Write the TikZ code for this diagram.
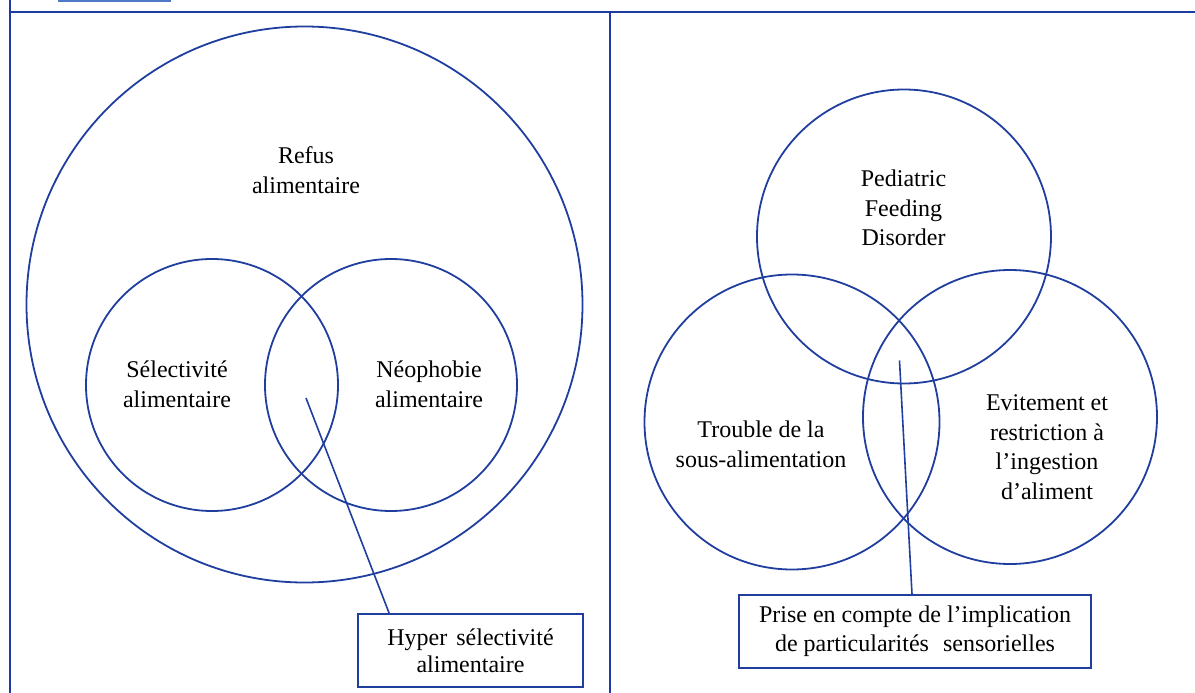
\documentclass[tikz,border=0pt]{standalone}
\usepackage{fontspec}
\setmainfont{Liberation Serif}
\definecolor{vennblue}{RGB}{32,62,158}
\definecolor{tabblue}{RGB}{28,58,160}
\definecolor{linkblue}{RGB}{80,120,200}
\begin{document}
\begin{tikzpicture}[x=1pt,y=-1pt,
  vennring/.style={circle, draw=vennblue, line width=1.8pt, inner sep=0pt},
  vennlabel/.style={font=\fontsize{24}{29.5}\selectfont, align=center, anchor=base, inner sep=0pt, text=black},
  callout/.style={draw=vennblue, line width=1.8pt, fill=white, inner sep=0pt, align=center, text=black},
  leader/.style={draw=vennblue, line width=1.6pt},
  frameline/.style={draw=tabblue, line width=2pt}]
\useasboundingbox (0,0) rectangle (1195,693);

% table frame
\coordinate (fTL) at (9.5,0);
\coordinate (fBL) at (9.5,693);
\coordinate (hL) at (9.5,12.5);
\coordinate (hR) at (1195,12.5);
\coordinate (mT) at (609.5,12.5);
\coordinate (mB) at (609.5,693);
\coordinate (uL) at (58,1);
\coordinate (uR) at (171,1);
\draw[frameline] (fTL) -- (fBL);
\draw[frameline] (hL) -- (hR);
\draw[frameline] (mT) -- (mB);
\draw[draw=linkblue, line width=2pt] (uL) -- (uR);

% left panel
\node[vennring, minimum size=556pt] (refusC) at (304.5,304.5) {};
\node[vennring, minimum size=252pt] (selecC) at (212,385) {};
\node[vennring, minimum size=252pt] (neoC) at (391,385) {};
\node[vennlabel] (refus) at (306,193) {Refus\\alimentaire};
\node[vennlabel] (selec) at (177,407) {Sélectivité\\alimentaire};
\node[vennlabel] (neo) at (429,407) {Néophobie\\alimentaire};
\node[callout, minimum width=225pt, minimum height=73pt, font=\fontsize{24}{27}\selectfont] (hyper) at (470.5,650.5) {Hyper\hspace{3pt} sélectivité\\alimentaire};
\coordinate (hyperEnd) at (306,398);
\draw[leader] (hyperEnd) -- ([xshift=32pt]hyper.north west);

% right panel
\node[vennring, minimum size=294pt] (pfdC) at (904,236.5) {};
\node[vennring, minimum size=295pt] (troubleC) at (792,422) {};
\node[vennring, minimum size=294pt] (evitC) at (1010,417) {};
\node[vennlabel] (pfd) at (903.5,245.5) {Pediatric\\Feeding\\Disorder};
\node[vennlabel] (trouble) at (761,467) {Trouble de la\\sous-alimentation};
\node[vennlabel] (evit) at (1047,499) {Evitement et\\restriction à\\l’ingestion\\d’aliment};
\node[callout, minimum width=352pt, minimum height=73pt, font=\fontsize{24}{29}\selectfont] (sens) at (915,631.5) {Prise en compte de l’implication\\de particularités\hspace{8pt} sensorielles};
\coordinate (sensEnd) at (899.5,360.5);
\draw[leader] (sensEnd) -- ([xshift=-3pt]sens.north);
\end{tikzpicture}
\end{document}
